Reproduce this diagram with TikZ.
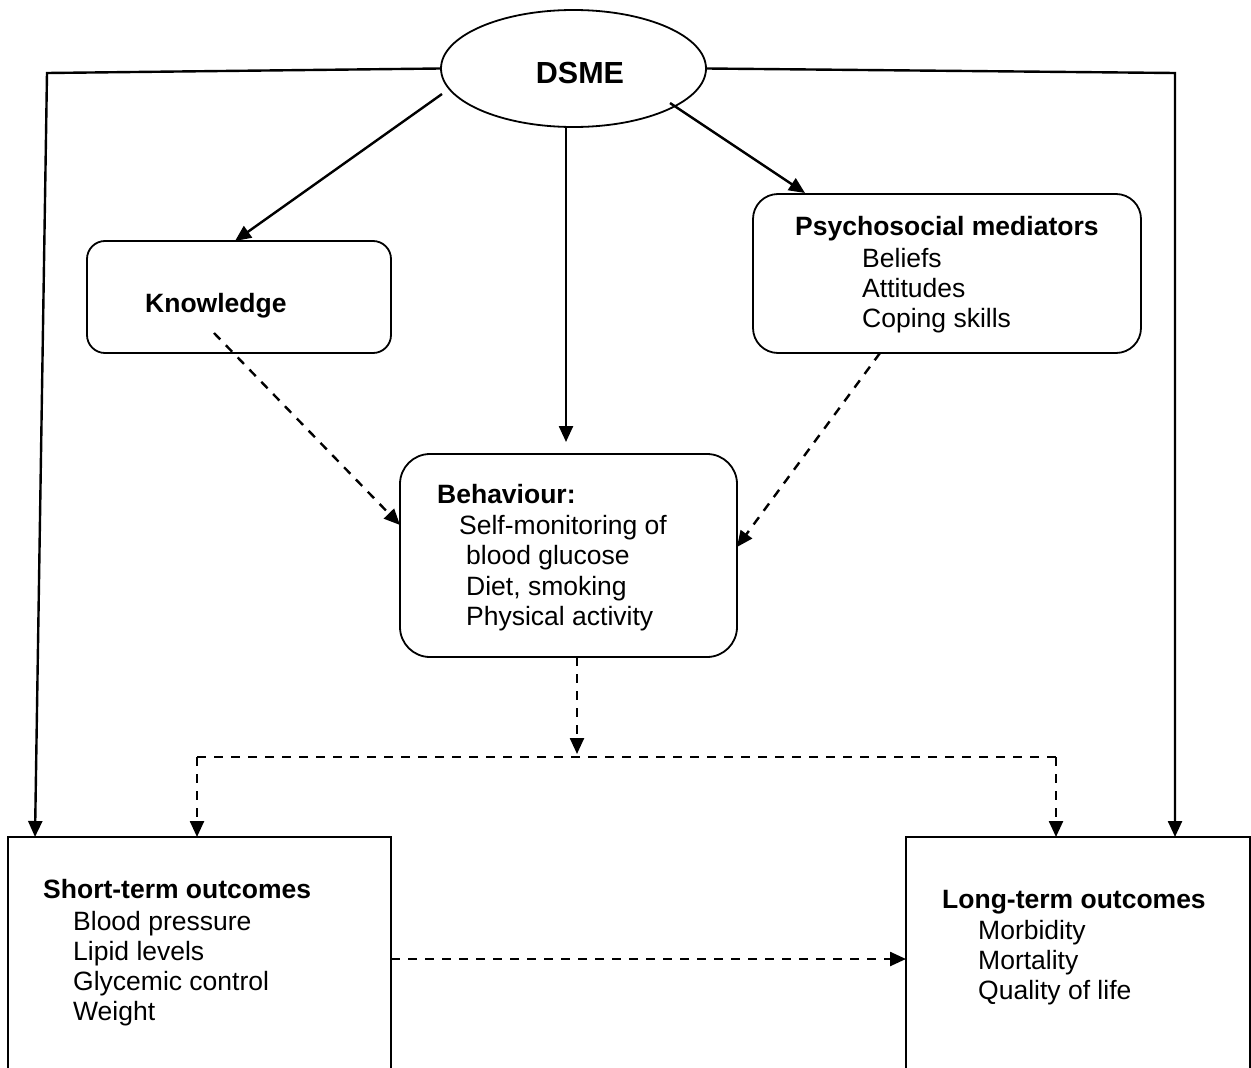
\documentclass[tikz,border=0pt]{standalone}
\usepackage{fontspec}
\setmainfont{Liberation Sans}
\usetikzlibrary{arrows.meta,shapes.geometric}

\begin{document}
\begin{tikzpicture}[x=1pt,y=-1pt,
  txt/.style={anchor=base west,inner sep=0pt,font=\fontsize{26.5}{30}\selectfont},
  hd/.style={txt,font=\fontsize{26.5}{30}\selectfont\bfseries},
  rbox/.style={draw,line width=1.8pt,rounded corners=#1},
  sbox/.style={draw,line width=1.8pt},
  arr/.style={line width=2.4pt,-{Triangle[length=16pt,width=14pt]}},
  darr/.style={line width=2.4pt,dash pattern=on 9pt off 8pt,-{Triangle[length=16pt,width=14pt]}},
  dline/.style={line width=2.4pt,dash pattern=on 9pt off 8pt}
]
\useasboundingbox (0,0) rectangle (1251,1068);
\clip (0,0) rectangle (1251,1068);

% central ellipse
\node[draw,ellipse,line width=1.8pt,minimum width=265pt,minimum height=117pt,inner sep=0pt]
  (dsme) at (573.5,68.5) {};
\node[anchor=base,inner sep=0pt,font=\fontsize{30.5}{34}\selectfont\bfseries] (dsmetxt) at (580,83) {DSME};

% boxes
\draw[rbox=18pt] (87,241) rectangle (391,353);
\draw[rbox=25pt] (753,194) rectangle (1141,353);
\draw[rbox=30pt] (400,454) rectangle (737,657);
\draw[sbox] (8,837) rectangle (391,1110);
\draw[sbox] (906,837) rectangle (1250,1110);

% box texts
\node[hd] (knowtxt) at (145,312) {Knowledge};

\node[hd]  (psy0) at (795,235) {Psychosocial mediators};
\node[txt] (psy1) at (862,267) {Beliefs};
\node[txt] (psy2) at (862,297) {Attitudes};
\node[txt] (psy3) at (862,327) {Coping skills};

\node[hd]  (beh0) at (437,503) {Behaviour:};
\node[txt] (beh1) at (459,534) {Self-monitoring of};
\node[txt] (beh2) at (466,564) {blood glucose};
\node[txt] (beh3) at (466,595) {Diet, smoking};
\node[txt] (beh4) at (466,625) {Physical activity};

\node[hd]  (st0) at (43,898) {Short-term outcomes};
\node[txt] (st1) at (73,930) {Blood pressure};
\node[txt] (st2) at (73,960) {Lipid levels};
\node[txt] (st3) at (73,990) {Glycemic control};
\node[txt] (st4) at (73,1020) {Weight};

\node[hd]  (lt0) at (942,908) {Long-term outcomes};
\node[txt] (lt1) at (978,939) {Morbidity};
\node[txt] (lt2) at (978,969) {Mortality};
\node[txt] (lt3) at (978,999) {Quality of life};

% connector end points
\coordinate (lcorner) at (47,73);
\coordinate (rcorner) at (1175,73);
\coordinate (stin) at (35,837);
\coordinate (ltin) at (1175,837);
\coordinate (dk) at (442,94);
\coordinate (knowin) at (235,241);
\coordinate (db) at (566,127);
\coordinate (behtop) at (566,442);
\coordinate (dp) at (670,103);
\coordinate (psyin) at (805,193);
\coordinate (knowout) at (214,333);
\coordinate (behl) at (400,525);
\coordinate (psyout) at (880,353);
\coordinate (behr) at (737,547);
\coordinate (behout) at (577,657);
\coordinate (split) at (577,754);
\coordinate (jl) at (197,757);
\coordinate (jr) at (1056,757);
\coordinate (stin2) at (197,837);
\coordinate (ltin2) at (1056,837);
\coordinate (stout) at (391,959);
\coordinate (ltin3) at (906,959);

% solid connectors from DSME
\draw[arr] (dsme.west) -- (lcorner) -- (stin);
\draw[arr] (dsme.east) -- (rcorner) -- (ltin);
\draw[arr] (dk) -- (knowin);
\draw[arr] (db) -- (behtop);
\draw[arr] (dp) -- (psyin);

% dashed connectors
\draw[darr] (knowout) -- (behl);
\draw[darr] (psyout) -- (behr);
\draw[darr] (behout) -- (split);
\draw[dline] (jl) -- (jr);
\draw[darr] (jl) -- (stin2);
\draw[darr] (jr) -- (ltin2);
\draw[darr] (stout) -- (ltin3);
\end{tikzpicture}
\end{document}
